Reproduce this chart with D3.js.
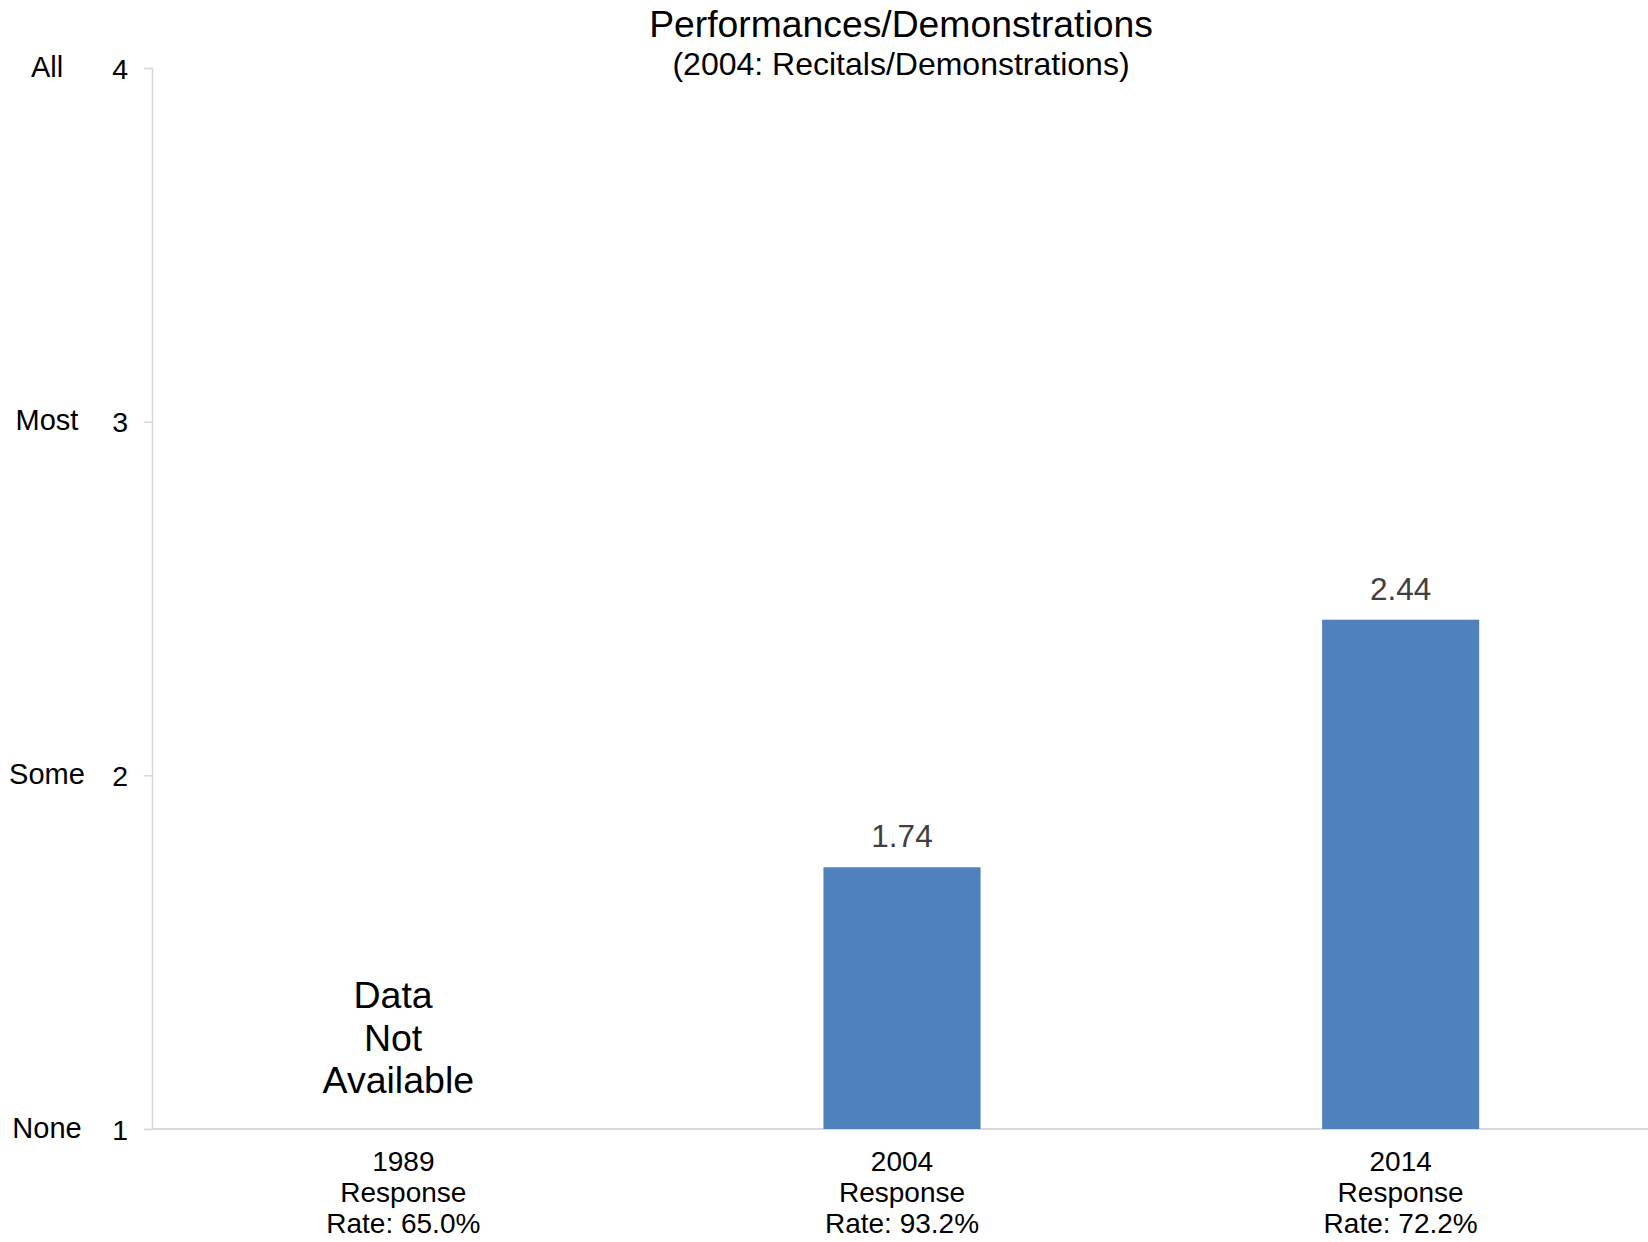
<!DOCTYPE html>
<html>
<head>
<meta charset="utf-8">
<script src="https://cdn.jsdelivr.net/npm/d3@7"></script>
<style>
    body { margin: 0; background: white; }
    text { font-family: "Liberation Sans", Arial, sans-serif; }
</style>
</head>
<body>
<svg id="grafica"></svg>
<script>
// datos de la grafica
const categorias = ['1989', '2004', '2014'];
const tasasRespuesta = ['65.0%', '93.2%', '72.2%'];
const valores = [null, 1.74, 2.44];
const ticksY = [1, 2, 3, 4];
const nivelesY = ['None', 'Some', 'Most', 'All'];
const textoSinDatos = ['Data\u00a0', 'Not\u00a0', 'Available'];

const ancho = 1648;
const alto = 1242;
const margen = { top: 68, right: 0, bottom: 113, left: 152 };

const svg = d3.select('#grafica')
    .attr('width', ancho)
    .attr('height', alto);

/**
 * Escalas
 */
const x = d3.scaleBand()
    .domain(categorias)
    .range([margen.left + 2, ancho + 2])
    .paddingInner(0.685)
    .paddingOuter(0.3425);

const y = d3.scaleLinear()
    .domain([1, 4])
    .range([alto - margen.bottom, margen.top]);

/**
 * Titulo
 */
svg.append('text')
    .attr('x', 901)
    .attr('y', 37)
    .attr('text-anchor', 'middle')
    .attr('font-size', 37.3)
    .attr('fill', '#000')
    .text('Performances/Demonstrations');

svg.append('text')
    .attr('x', 901)
    .attr('y', 75)
    .attr('text-anchor', 'middle')
    .attr('font-size', 32)
    .attr('fill', '#000')
    .text('(2004: Recitals/Demonstrations)');

/**
 * Eje Y
 */
const ejeY = svg.append('g')
    .attr('transform', `translate(${margen.left},0)`)
    .call(d3.axisLeft(y).tickValues(ticksY).tickFormat(d3.format('d')).tickSize(8).tickPadding(16));

ejeY.select('.domain').attr('stroke', '#d9d9d9').attr('stroke-width', 1.5);
ejeY.selectAll('.tick line').attr('stroke', '#d9d9d9').attr('stroke-width', 1.5);
ejeY.selectAll('.tick text')
    .attr('font-size', 28.5)
    .attr('fill', '#000')
    .attr('dy', '0.36em')
    .attr('font-family', '"Liberation Sans", Arial, sans-serif');

svg.append('g')
    .selectAll('text')
    .data(ticksY)
    .join('text')
    .attr('x', 47)
    .attr('y', d => y(d))
    .attr('dy', '0.3em')
    .attr('text-anchor', 'middle')
    .attr('font-size', 29)
    .attr('fill', '#000')
    .text((d, i) => nivelesY[i]);

/**
 * Eje X
 */
svg.append('line')
    .attr('x1', margen.left)
    .attr('x2', ancho)
    .attr('y1', y(1))
    .attr('y2', y(1))
    .attr('stroke', '#d9d9d9')
    .attr('stroke-width', 2);

const etiquetasX = svg.append('g')
    .selectAll('text')
    .data(categorias)
    .join('text')
    .attr('text-anchor', 'middle')
    .attr('font-size', 28)
    .attr('fill', '#000');

etiquetasX.each(function (d, i) {
    const t = d3.select(this);
    const cx = x(d) + x.bandwidth() / 2;
    [d, 'Response', 'Rate: ' + tasasRespuesta[i]].forEach((linea, j) => {
        t.append('tspan')
            .attr('x', cx)
            .attr('y', y(1) + 42 + j * 31)
            .text(linea);
    });
});

/**
 * Barras y etiquetas de valor
 */
const datos = categorias.map((c, i) => ({ categoria: c, valor: valores[i] }));
const conDatos = datos.filter(d => d.valor !== null);

svg.append('g')
    .selectAll('rect')
    .data(conDatos)
    .join('rect')
    .attr('x', d => x(d.categoria))
    .attr('y', d => y(d.valor))
    .attr('width', x.bandwidth())
    .attr('height', d => y(1) - y(d.valor))
    .attr('fill', '#4f81bd');

svg.append('g')
    .selectAll('text')
    .data(conDatos)
    .join('text')
    .attr('x', d => x(d.categoria) + x.bandwidth() / 2)
    .attr('y', d => y(d.valor) - 20)
    .attr('text-anchor', 'middle')
    .attr('font-size', 31.5)
    .attr('fill', '#404040')
    .text(d => d3.format('.2f')(d.valor));

/**
 * Texto para categoria sin datos
 */
const sinDatos = datos.filter(d => d.valor === null);
sinDatos.forEach(d => {
    const cx = x(d.categoria) + x.bandwidth() / 2 - 5;
    svg.append('text')
        .attr('text-anchor', 'middle')
        .attr('font-size', 37.5)
        .attr('fill', '#000')
        .selectAll('tspan')
        .data(textoSinDatos)
        .join('tspan')
        .attr('x', cx)
        .attr('y', (t, j) => y(1) - 121 + j * 42.5)
        .text(t => t);
});
</script>
</body>
</html>
